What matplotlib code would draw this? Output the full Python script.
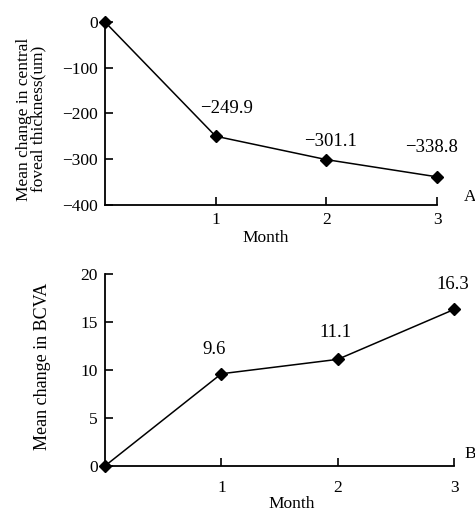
import matplotlib.pyplot as plt

plt.rcParams['font.family'] = ['Liberation Serif', 'DejaVu Serif']

months = [0, 1, 2, 3]
thickness_change = [0, -249.9, -301.1, -338.8]
bcva_change = [0, 9.6, 11.1, 16.3]
thickness_ticks = [0, -100, -200, -300, -400]
bcva_ticks = [0, 5, 10, 15, 20]
month_ticks = [1, 2, 3]


def style_axes(ax, xpad):
    for side in ("top", "right"):
        ax.spines[side].set_visible(False)
    for side in ("left", "bottom"):
        ax.spines[side].set_linewidth(1.3)
    ax.tick_params(direction="in", length=6, width=1.2, labelsize=12.5, pad=5)
    ax.tick_params(axis="x", pad=xpad)
    ax.set_xticks(month_ticks)
    ax.set_xlim(0, 3)


fig = plt.figure(figsize=(4.75, 5.12), dpi=100)

# panel A
ax1 = fig.add_axes([0.221, 0.600, 0.699, 0.357])
ax1.plot(months, thickness_change, color="black", lw=1.1, marker="D", ms=6.5, clip_on=False, zorder=3)
ax1.set_ylim(-400, 0)
ax1.set_yticks(thickness_ticks)
style_axes(ax1, 5)
ax1.set_xlabel("Month", fontsize=12.5)
ax1.xaxis.set_label_coords(0.485, -0.137)
ax1.set_ylabel("Mean change in central\nfoveal thickness(um)", fontsize=12.5, linespacing=0.9)
ax1.yaxis.set_label_coords(-0.175, 0.47)
label_offsets_a = [None, (11, 28), (4, 18), (-5, 29)]
for m, v, off in zip(months, thickness_change, label_offsets_a):
    if off is None:
        continue
    ax1.annotate(f"{v:.1f}".replace("-", "\u2212"), (m, v), xytext=off, textcoords="offset pixels",
                 ha="center", va="center", fontsize=13.5)
ax1.text(1.1, 0.04, "A", transform=ax1.transAxes, fontsize=12.5, ha="center", va="center")

# panel B
ax2 = fig.add_axes([0.221, 0.090, 0.735, 0.375])
ax2.plot(months, bcva_change, color="black", lw=1.1, marker="D", ms=6.5, clip_on=False, zorder=3)
ax2.set_ylim(0, 20)
ax2.set_yticks(bcva_ticks)
style_axes(ax2, 10)
ax2.set_xlabel("Month", fontsize=12.5)
ax2.xaxis.set_label_coords(0.536, -0.158)
ax2.set_ylabel("Mean change in BCVA", fontsize=13)
ax2.yaxis.set_label_coords(-0.155, 0.52)
label_offsets_b = [None, (-7, 24), (-2, 27), (-1, 25)]
for m, v, off in zip(months, bcva_change, label_offsets_b):
    if off is None:
        continue
    ax2.annotate(f"{v:.1f}", (m, v), xytext=off, textcoords="offset pixels",
                 ha="center", va="center", fontsize=13.5)
ax2.text(1.045, 0.06, "B", transform=ax2.transAxes, fontsize=12.5, ha="center", va="center")

fig.savefig("out.png", dpi=100)
